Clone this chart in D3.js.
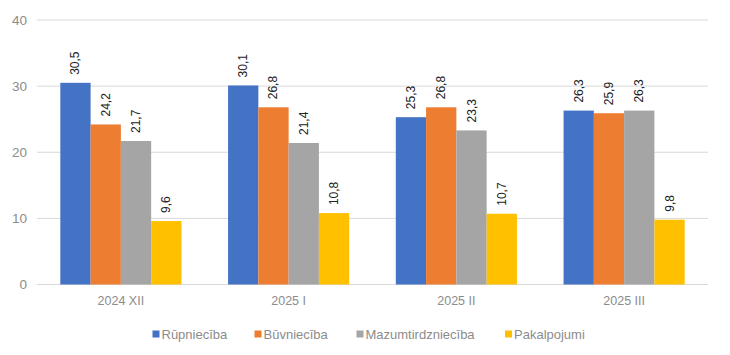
<!DOCTYPE html>
<html><head><meta charset="utf-8">
<script src="https://cdn.jsdelivr.net/npm/d3@7"></script>
<style>body{margin:0;background:#fff}svg{display:block}</style>
</head><body>
<svg id="c" width="730" height="355"></svg>
<script>
const categories = ["2024 XII", "2025 I", "2025 II", "2025 III"];
const seriesNames = ["Rūpniecība", "Būvniecība", "Mazumtirdzniecība", "Pakalpojumi"];
const rupnieciba = [30.5, 30.1, 25.3, 26.3];
const buvnieciba = [24.2, 26.8, 26.8, 25.9];
const mazumtirdznieciba = [21.7, 21.4, 23.3, 26.3];
const pakalpojumi = [9.6, 10.8, 10.7, 9.8];
const yTicks = [0, 10, 20, 30, 40];
const colors = ["#4472C4", "#ED7D31", "#A5A5A5", "#FFC000"];

(function () {
const seriesValues = [rupnieciba, buvnieciba, mazumtirdznieciba, pakalpojumi];
const svg = d3.select("#c");
const mL = 37, mR = 708, mT = 20, mB = 284.5;
const font = "'Liberation Sans', Arial, sans-serif";

const x0 = d3.scaleBand().domain(categories).range([mL, mR]).paddingInner(0.278).paddingOuter(0.139);
const x1 = d3.scaleBand().domain(seriesNames).range([0, x0.bandwidth()]);
const y = d3.scaleLinear().domain([0, 40]).range([mB, mT]);

// gridlines
svg.append("g").selectAll("line").data(yTicks).join("line")
  .attr("x1", mL).attr("x2", mR)
  .attr("y1", d => y(d)).attr("y2", d => y(d))
  .attr("stroke", "#d9d9d9").attr("stroke-width", 1);

// y labels
const yAxis = d3.axisLeft(y).tickValues(yTicks).tickSize(0).tickPadding(0).tickFormat(d3.format("d"));
const ga = svg.append("g").attr("transform", `translate(${mL - 10},0)`).call(yAxis);
ga.select(".domain").remove();
ga.selectAll("text").attr("font-family", font).attr("font-size", 13.5).attr("fill", "#8c8c8c");

// bars
const groups = svg.append("g").selectAll("g").data(categories).join("g")
  .attr("transform", d => `translate(${x0(d)},0)`);
const fmt = v => v.toFixed(1).replace(".", ",");
groups.each(function(cat, ci) {
  const g = d3.select(this);
  const data = seriesNames.map((s, si) => ({s, si, v: seriesValues[si][ci]}));
  g.selectAll("rect").data(data).join("rect")
    .attr("x", d => x1(d.s)).attr("width", x1.bandwidth())
    .attr("y", d => y(d.v)).attr("height", d => y(0) - y(d.v))
    .attr("fill", d => colors[d.si]);
  g.selectAll("text").data(data).join("text")
    .attr("transform", d => `translate(${x1(d.s) + x1.bandwidth() / 2 + 4},${y(d.v) - 8}) rotate(-90)`)
    .attr("font-family", font).attr("font-size", 12).attr("fill", "#222")
    .text(d => fmt(d.v));
});

// x axis
const xAxis = d3.axisBottom(x0).tickSize(0).tickPadding(0);
const gx = svg.append("g").attr("transform", `translate(0,${mB})`).call(xAxis);
gx.select(".domain").remove();
gx.selectAll("text").attr("dy", 0).attr("y", 20.5).attr("font-family", font).attr("font-size", 12.5).attr("fill", "#8c8c8c");

// legend
const legendX = [152.5, 254.5, 356.5, 505];
const lg = svg.append("g").selectAll("g").data(seriesNames).join("g")
  .attr("transform", (d, i) => `translate(${legendX[i]},334)`);
lg.append("rect").attr("x", 0).attr("y", -3.5).attr("width", 7).attr("height", 7).attr("fill", (d, i) => colors[i]);
lg.append("text").attr("x", 9).attr("y", 4.5).attr("font-family", font).attr("font-size", 13).attr("fill", "#8c8c8c").text(d => d);
})();
</script>
</body></html>
